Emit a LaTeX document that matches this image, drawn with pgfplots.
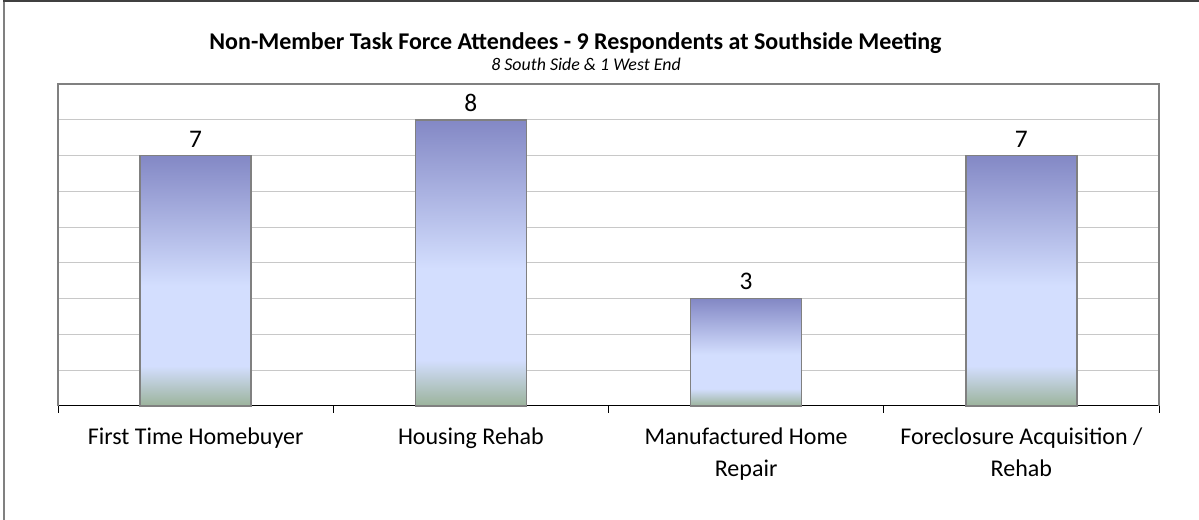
\documentclass[border=0pt]{standalone}
\usepackage{pgfplots}
\pgfplotsset{compat=1.18}
\usepackage{fontspec}
\setmainfont{Carlito}
\definecolor{topblue}{HTML}{8388C5}
\definecolor{lightblue}{HTML}{D3DEFE}
\definecolor{botgreen}{HTML}{9BB39B}
\definecolor{gridgray}{HTML}{C8C8C8}
\definecolor{framegray}{HTML}{808080}
\pgfdeclareverticalshading{barshade}{100bp}{color(0bp)=(botgreen); color(25bp)=(botgreen); color(33bp)=(lightblue); color(49bp)=(lightblue); color(75bp)=(topblue); color(100bp)=(topblue)}
\begin{document}
\begin{tikzpicture}[x=1pt,y=1pt]
\path[use as bounding box] (0,0) rectangle (899.25,390);
\draw[framegray, line width=1.5pt] (3,0) -- (3,389.25);
\draw[black!75, line width=1.5pt] (2.25,389.25) -- (899.25,389.25);
\node[font=\bfseries\fontsize{18}{22}\selectfont] at (431.6,358) {Non-Member Task Force Attendees - 9 Respondents at Southside Meeting};
\node[font=\itshape\fontsize{13.4}{16}\selectfont] at (439.5,342) {8 South Side \& 1 West End};
\begin{axis}[
  at={(43.5pt,85.5pt)}, anchor=south west,
  scale only axis, width=825.75pt, height=241.5pt,
  xmin=-0.5, xmax=3.5, ymin=0, ymax=9,
  ytick={0,...,9}, yticklabels={}, ymajorgrids,
  major grid style={gridgray, line width=0.75pt},
  major y tick style={draw=none},
  xtick={0,1,2,3},
  xticklabels={First Time Homebuyer, Housing Rehab, {Manufactured Home\\Repair}, {Foreclosure Acquisition /\\Rehab}},
  xticklabel style={font=\fontsize{18}{24}\selectfont, align=center, anchor=north, yshift=-8.5pt},
  major x tick style={draw=none},
  minor xtick={-0.5,0.5,1.5,2.5,3.5},
  minor x tick style={black, line width=0.75pt},
  minor tick length=5pt,
  tick align=outside,
  axis line style={framegray, line width=1.5pt},
  separate axis lines,
  axis x line*=bottom,
  axis y line*=left,
  every outer x axis line/.append style={black, line width=0.75pt},
  ybar, bar width=83.25pt, bar shift=0pt,
  nodes near coords={\pgfmathprintnumber[assume math mode=true]{\pgfplotspointmeta}},
  every node near coord/.append style={font=\fontsize{19}{22}\selectfont, black, yshift=2.5pt},
  clip=false,
]
\addplot[draw=framegray, line width=1.1pt, shading=barshade] coordinates {(0,7)};
\addplot[draw=framegray, line width=1.1pt, shading=barshade] coordinates {(1,8)};
\addplot[draw=framegray, line width=1.1pt, shading=barshade] coordinates {(2,3)};
\addplot[draw=framegray, line width=1.1pt, shading=barshade] coordinates {(3,7)};
\draw[framegray, line width=1.5pt] (rel axis cs:0,0) -- (rel axis cs:0,1) -- (rel axis cs:1,1) -- (rel axis cs:1,0);
\end{axis}
\end{tikzpicture}
\end{document}
